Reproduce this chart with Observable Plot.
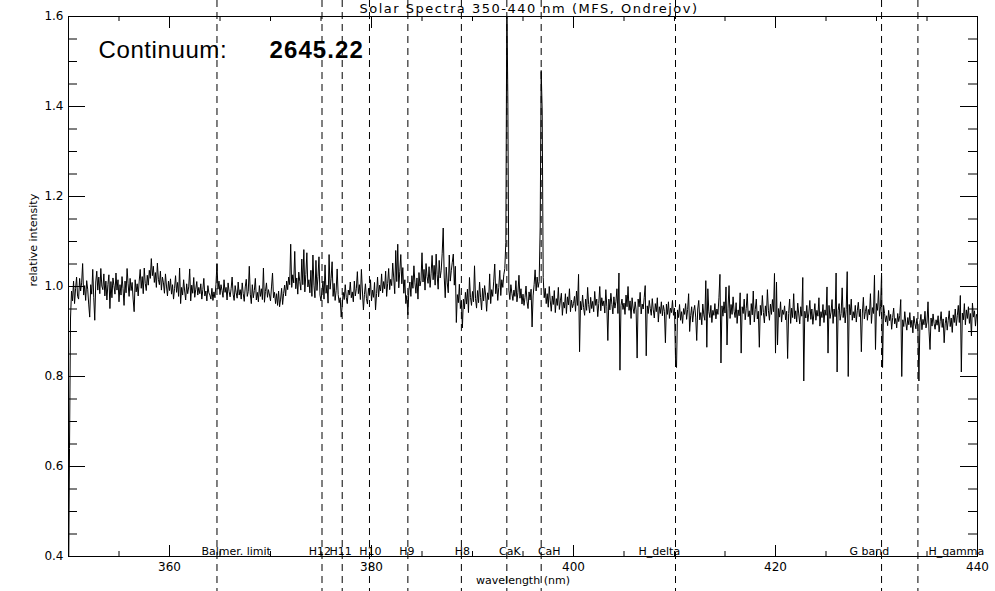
<!DOCTYPE html>
<html>
<head>
<meta charset="utf-8">
<script src="https://cdn.jsdelivr.net/npm/d3@7"></script>
<script src="https://cdn.jsdelivr.net/npm/@observablehq/plot@0.6"></script>
<style>
  html, body { margin: 0; padding: 0; background: #fff; }
  #chart svg { display: block; }
</style>
</head>
<body>
<div id="chart"></div>
<script>
// ---- data ----
const titleText = "Solar Spectra 350-440 nm (MFS, Ondrejov)";
const continuumLabel = "Continuum:";
const continuumValue = "2645.22";
const xLabel = "wavelength (nm)";
const yLabel = "relative intensity";

// sampling grid of the spectrum (nm)
const wlStart = 350;
const wlStep = 0.1;

// relative intensity, one row per nm (x.0 ... x.9)
const intensity = [
  0.300,0.640,0.930,0.990,0.968,1.012,0.962,0.995,1.021,0.978, // 350
  0.972,1.018,0.990,1.008,1.051,0.981,1.002,0.969,1.013,0.994, // 351
  0.961,0.932,1.004,0.983,1.038,0.975,0.925,1.010,1.034,0.992, // 352
  1.021,0.984,1.040,1.001,0.993,1.028,0.979,1.012,0.970,1.004, // 353
  1.026,0.951,1.011,0.975,1.019,1.002,0.983,1.030,0.992,1.015, // 354
  0.966,1.004,0.981,1.022,0.995,0.958,1.012,0.986,1.040,1.006, // 355
  0.978,1.018,0.991,1.009,0.972,0.944,1.015,0.988,1.006,0.979, // 356
  1.012,1.038,0.996,1.022,0.984,1.041,1.007,0.991,1.025,1.003, // 357
  1.036,1.018,1.062,1.024,1.045,1.009,1.031,0.998,1.052,1.016, // 358
  1.004,1.034,0.992,1.021,1.008,0.985,1.028,1.001,0.979,1.012, // 359
  0.991,1.017,0.983,1.004,0.972,0.996,1.024,0.987,1.009,0.978, // 360
  1.041,0.962,0.998,0.981,1.015,0.990,0.970,1.006,0.984,0.999, // 361
  1.039,0.968,1.003,0.985,1.020,0.976,0.994,1.011,0.981,0.998, // 362
  0.984,1.006,0.972,0.993,1.018,0.979,0.990,0.968,1.002,0.986, // 363
  0.981,0.972,0.996,0.969,0.988,0.975,1.005,1.051,0.994,1.012, // 364
  0.982,1.004,0.991,0.976,1.015,0.987,0.998,0.970,1.008,0.989, // 365
  0.977,0.995,1.021,0.983,0.969,1.002,0.986,0.974,1.010,0.981, // 366
  0.993,0.972,1.008,0.984,0.967,0.999,1.016,0.978,0.989,1.045, // 367
  0.983,0.962,1.004,0.975,0.991,1.018,0.970,0.987,0.966,1.002, // 368
  0.978,0.995,0.971,1.041,0.965,0.989,1.008,0.976,0.993,0.981, // 369
  0.968,0.999,1.030,0.975,0.987,0.962,0.984,0.958,0.990,0.955, // 370
  0.972,0.996,0.960,0.985,1.003,0.979,1.012,0.993,1.021,1.004, // 371
  1.094,0.998,1.026,1.008,1.078,0.995,1.019,0.983,1.032,1.011, // 372
  0.992,1.061,1.004,1.082,0.988,1.027,1.075,0.999,1.015,0.986, // 373
  1.036,0.978,1.070,1.003,0.975,1.058,0.991,1.022,1.066,0.981, // 374
  0.968,0.990,1.012,0.972,1.048,0.985,1.003,0.963,1.071,0.994, // 375
  1.018,1.055,0.978,1.007,0.969,0.991,1.039,0.982,0.964,0.975, // 376
  0.932,0.958,0.987,0.971,1.004,0.976,0.962,0.992,0.981,1.010, // 377
  0.975,0.988,0.966,1.012,0.979,0.995,1.033,0.984,1.004,0.971, // 378
  1.038,0.990,0.948,0.982,1.006,0.973,0.961,0.996,0.980,1.015, // 379
  0.968,0.992,0.976,1.009,0.948,0.984,1.021,0.977,1.003,0.990, // 380
  1.028,0.986,1.011,0.995,1.034,0.978,1.007,1.040,0.993,1.016, // 381
  1.002,1.052,1.019,0.984,1.080,1.011,1.094,0.997,1.033,1.071, // 382
  1.006,1.042,0.985,1.015,0.962,0.980,0.937,0.992,1.010,0.978, // 383
  1.024,0.996,1.046,1.008,0.985,1.019,0.972,1.031,1.001,1.013, // 384
  1.075,1.010,1.038,0.992,1.051,1.022,1.007,1.044,0.998,1.028, // 385
  1.069,1.015,1.047,1.003,1.072,1.026,0.994,1.058,1.019,1.036, // 386
  1.074,1.130,1.021,0.975,1.043,1.008,0.986,1.070,1.012,1.035, // 387
  1.054,1.072,1.003,1.045,0.920,0.982,0.964,1.005,0.951,0.968, // 388
  0.908,0.972,0.950,0.987,0.961,0.994,0.942,1.020,0.976,0.958, // 389
  0.989,0.966,1.046,0.973,0.952,0.991,0.964,1.010,0.975,0.948, // 390
  0.996,0.968,1.002,0.981,0.945,0.986,0.971,1.028,0.962,0.993, // 391
  0.978,1.012,1.050,0.984,1.006,0.969,0.998,1.036,0.980,1.015, // 392
  0.998,1.026,1.040,1.098,1.650,1.412,0.992,0.971,1.004,0.985, // 393
  0.969,0.992,0.978,1.013,0.966,0.987,1.025,0.974,0.995,0.961, // 394
  0.983,0.958,0.976,1.001,0.966,0.951,0.988,0.970,0.994,0.910, // 395
  0.979,1.004,1.037,0.990,1.021,0.998,1.011,1.130,1.480,1.390, // 396
  1.020,0.975,0.996,0.962,0.984,0.954,1.000,0.968,0.945,0.979, // 397
  0.960,0.991,0.942,0.973,0.958,0.998,0.949,0.968,0.985,0.936, // 398
  0.965,0.952,0.984,0.940,0.977,0.959,0.995,0.944,0.970,0.953, // 399
  0.962,0.978,0.945,0.990,0.958,1.027,0.855,0.967,0.948,0.981, // 400
  0.953,0.936,0.972,0.947,0.998,0.960,0.941,0.976,0.951,0.967, // 401
  0.944,0.989,0.958,0.972,0.933,0.962,1.000,0.946,0.975,0.957, // 402
  0.968,0.941,0.993,0.955,0.880,0.972,0.948,0.985,0.960,0.939, // 403
  0.977,0.952,0.966,0.995,0.940,1.030,0.814,0.958,0.972,0.949, // 404
  0.963,0.938,0.981,0.955,1.000,0.947,0.968,0.929,0.975,0.952, // 405
  0.940,0.966,0.948,0.841,0.972,0.955,0.987,0.939,0.961,0.950, // 406
  0.975,1.002,0.846,0.957,0.940,0.969,0.951,0.936,0.973,0.948, // 407
  0.930,0.962,0.944,0.975,0.921,0.955,0.940,0.966,0.935,0.958, // 408
  0.945,0.875,0.961,0.938,0.966,0.929,0.952,0.942,0.969,0.936, // 409
  0.952,0.839,0.820,0.948,0.931,0.960,0.925,0.944,0.918,0.951, // 410
  0.938,0.962,0.927,0.949,0.984,0.900,0.935,0.955,0.921,0.946, // 411
  0.958,0.932,0.880,0.950,0.969,0.926,0.942,0.915,0.961,0.937, // 412
  0.925,1.013,0.865,0.995,0.944,0.931,0.958,0.920,0.947,0.936, // 413
  0.962,0.928,0.950,0.938,0.975,1.027,0.830,0.957,0.934,0.966, // 414
  0.941,0.999,0.870,0.952,1.002,0.929,0.960,0.938,0.977,0.945, // 415
  0.931,0.964,0.918,0.948,0.935,0.986,0.852,0.955,0.940,0.972, // 416
  0.926,0.951,0.984,0.933,0.946,0.915,0.962,0.937,0.990,0.921, // 417
  0.949,0.972,0.928,0.945,0.865,0.958,0.936,0.980,0.942,0.919, // 418
  0.957,0.934,0.993,0.946,0.925,0.961,0.938,0.971,0.944,1.029, // 419
  0.852,1.010,0.870,0.951,0.932,0.966,0.921,0.948,0.938,0.957, // 420
  0.926,0.945,0.840,0.940,0.972,0.918,0.952,0.931,0.984,0.928, // 421
  0.946,0.921,0.963,0.939,0.917,0.955,0.934,1.020,0.790,0.945, // 422
  0.930,0.958,0.922,0.941,0.969,0.927,0.950,0.916,0.939,0.962, // 423
  0.925,0.947,0.934,0.975,0.912,0.944,0.931,0.960,0.920,0.948, // 424
  0.936,0.999,0.852,0.958,0.929,0.943,0.971,0.918,0.950,0.933, // 425
  1.030,0.810,0.947,0.962,0.925,0.940,0.997,0.931,0.953,0.919, // 426
  0.949,1.033,0.800,0.960,0.937,0.972,0.925,0.944,0.930,0.958, // 427
  0.921,0.946,0.965,0.933,0.950,0.855,0.941,0.976,0.928,0.944, // 428
  0.957,0.925,0.949,0.937,0.984,0.918,0.953,0.940,1.025,0.860, // 429
  0.962,0.947,0.991,0.934,0.955,1.030,0.820,0.958,0.940,0.921, // 430
  0.935,0.913,0.947,0.924,0.938,0.905,0.931,0.952,0.917,0.929, // 431
  0.908,0.940,0.922,0.935,0.971,0.800,0.926,0.911,0.944,0.919, // 432
  0.903,0.931,0.915,0.942,0.909,0.925,0.897,0.934,0.918,0.906, // 433
  0.929,0.912,0.790,0.920,0.938,0.904,0.927,0.915,0.945,0.908, // 434
  0.921,0.966,0.901,0.860,0.930,0.912,0.939,0.918,0.905,0.926, // 435
  0.914,0.935,0.899,0.922,0.944,0.909,0.928,0.875,0.917,0.932, // 436
  0.903,0.925,0.946,0.911,0.930,0.898,0.937,0.920,0.950,0.913, // 437
  0.935,0.958,0.920,0.980,0.810,0.941,0.926,0.962,0.915,0.948, // 438
  0.929,0.955,0.918,0.940,0.890,0.963,0.932,0.946,0.912,0.938, // 439
  0.934                                                        // 440
];

// marked spectral lines
const lineNames = ["Balmer. limit", "H12", "H11", "H10", "H9", "H8", "CaK", "CaH", "H_delta", "G band", "H_gamma"];
const lineWavelengths = [364.7, 375.1, 377.1, 379.8, 383.6, 388.9, 393.4, 396.8, 410.1, 430.5, 434.1];
const labelWavelengths = [366.6, 374.9, 376.95, 379.9, 383.5, 389.0, 393.7, 397.6, 408.5, 429.3, 437.9];

// axis ticks
const xDomain = [350, 440];
const yDomain = [0.4, 1.6];
const xMajorTicks = [360, 380, 400, 420, 440];
const xMinorTicks = [355, 365, 370, 375, 385, 390, 395, 405, 410, 415, 425, 430, 435];
const yMajorTicks = [0.4, 0.6, 0.8, 1.0, 1.2, 1.4, 1.6];
const yMinorTicks = [0.45, 0.5, 0.55, 0.65, 0.7, 0.75, 0.85, 0.9, 0.95, 1.05, 1.1, 1.15, 1.25, 1.3, 1.35, 1.45, 1.5, 1.55];

// ---- layout ----
const W = 995, H = 591;
const mL = 68, mR = 18, mT = 16, mB = 35;
const frameW = W - mL - mR, frameH = H - mT - mB;
const font = "'DejaVu Sans', 'Liberation Sans', sans-serif";

const spectrum = intensity.map((v, i) => ({wl: wlStart + i * wlStep, v}));
const lines = lineNames.map((name, i) => ({name, wl: lineWavelengths[i], lx: labelWavelengths[i]}));

const chart = Plot.plot({
  width: W,
  height: H,
  marginLeft: mL,
  marginRight: mR,
  marginTop: mT,
  marginBottom: mB,
  style: {background: "#fff", color: "#000", fontFamily: font, fontSize: "12px"},
  x: {domain: xDomain},
  y: {domain: yDomain},
  marks: [
    // dashed line markers spanning the whole window height
    Plot.ruleX(lines, {x: "wl", stroke: "#000", strokeWidth: 1, strokeDasharray: "7,5", insetTop: -mT, insetBottom: -mB}),
    // spectrum
    Plot.line(spectrum, {x: "wl", y: "v", stroke: "#000", strokeWidth: 1, clip: true}),
    Plot.frame({stroke: "#000", strokeWidth: 1}),
    // inward ticks: left / right
    Plot.tickY(yMajorTicks, {y: d => d, stroke: "#000", insetRight: frameW - 17}),
    Plot.tickY(yMinorTicks, {y: d => d, stroke: "#000", insetRight: frameW - 9}),
    Plot.tickY(yMajorTicks, {y: d => d, stroke: "#000", insetLeft: frameW - 17}),
    Plot.tickY(yMinorTicks, {y: d => d, stroke: "#000", insetLeft: frameW - 9}),
    // inward ticks: bottom / top
    Plot.tickX(xMajorTicks, {x: d => d, stroke: "#000", insetTop: frameH - 11}),
    Plot.tickX(xMinorTicks, {x: d => d, stroke: "#000", insetTop: frameH - 5}),
    Plot.tickX(xMajorTicks, {x: d => d, stroke: "#000", insetBottom: frameH - 12}),
    Plot.tickX(xMinorTicks, {x: d => d, stroke: "#000", insetBottom: frameH - 5}),
    // tick labels
    Plot.axisY({ticks: yMajorTicks, tickSize: 0, tickPadding: 5, tickFormat: d3.format(".1f"), anchor: "left", label: null, fontSize: 12}),
    Plot.axisX({ticks: xMajorTicks, tickSize: 0, tickPadding: 6, tickFormat: d => String(d), anchor: "bottom", label: null, fontSize: 12}),
    // line labels on the bottom axis
    Plot.text(lines, {x: "lx", text: "name", frameAnchor: "bottom", lineAnchor: "bottom", dy: -2, fill: "#000", fontSize: 11}),
    // axis titles
    Plot.text([xLabel], {text: d => d, frameAnchor: "bottom", lineAnchor: "bottom", dy: 27, fill: "#000", fontSize: 11}),
    Plot.text([yLabel], {text: d => d, frameAnchor: "left", rotate: -90, dx: -35, fill: "#000", fontSize: 11}),
    // chart title
    Plot.text([titleText], {text: d => d, frameAnchor: "top", lineAnchor: "bottom", dy: -4, dx: 6, fill: "#000", fontSize: 13}),
    // continuum annotation
    Plot.text([continuumLabel], {text: d => d, frameAnchor: "top-left", textAnchor: "start", lineAnchor: "bottom", dx: 30, dy: 41, fill: "#000", fontSize: 24, fontFamily: "'Liberation Sans', sans-serif"}),
    Plot.text([continuumValue], {text: d => d, frameAnchor: "top-left", textAnchor: "start", lineAnchor: "bottom", dx: 201, dy: 41, fill: "#000", fontSize: 24, fontWeight: "bold", fontFamily: "'Liberation Sans', sans-serif"})
  ]
});

// letter spacing to mimic the wide vector font of the original
const spacing = new Map([[titleText, "1.5px"], [continuumLabel, "0.6px"], [continuumValue, "1.1px"]]);
d3.select(chart).selectAll("text").each(function () {
  const s = spacing.get(this.textContent);
  if (s) this.style.letterSpacing = s;
});

document.getElementById("chart").appendChild(chart);
</script>
</body>
</html>
